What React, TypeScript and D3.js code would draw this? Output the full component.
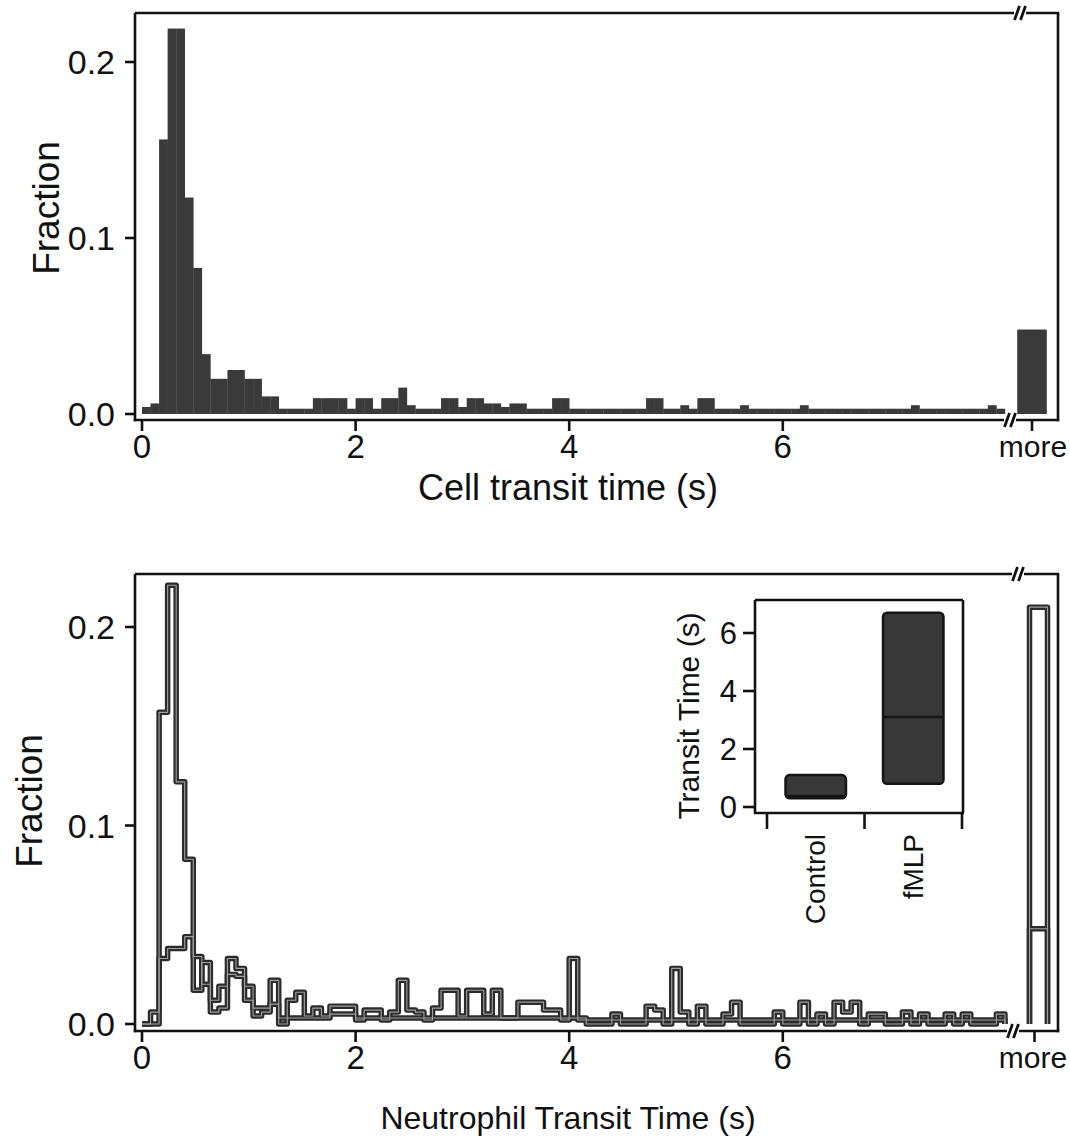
import React from 'react';
import * as d3 from 'd3';

// ---------- data ----------
const BIN_WIDTH = 0.08; // seconds per histogram bin

// Top panel: cell transit time histogram (fraction per bin, bins start at 0 s)
const topFractions = [
  0.004, 0.006, 0.156, 0.219, 0.219, 0.123, 0.083, 0.034, 0.020, 0.020,
  0.025, 0.025, 0.020, 0.020, 0.010, 0.010, 0.003, 0.003, 0.003, 0.003,
  0.009, 0.009, 0.009, 0.009, 0.003, 0.009, 0.009, 0.003, 0.009, 0.009,
  0.015, 0.005, 0.003, 0.003, 0.003, 0.009, 0.009, 0.004, 0.009, 0.009,
  0.006, 0.006, 0.004, 0.006, 0.006, 0.003, 0.003, 0.003, 0.009, 0.009,
  0.003, 0.003, 0.003, 0.003, 0.003, 0.003, 0.003, 0.003, 0.003, 0.009,
  0.009, 0.003, 0.003, 0.005, 0.003, 0.009, 0.009, 0.003, 0.003, 0.003,
  0.005, 0.003, 0.003, 0.003, 0.003, 0.003, 0.003, 0.005, 0.003, 0.003,
  0.003, 0.003, 0.003, 0.003, 0.003, 0.003, 0.003, 0.003, 0.003, 0.003,
  0.005, 0.003, 0.003, 0.003, 0.003, 0.003, 0.003, 0.003, 0.003, 0.005,
  0.003,
];
const topMore = 0.048;

// Bottom panel: neutrophil transit time, control and fMLP
const controlFractions = [
  0.000, 0.006, 0.157, 0.221, 0.122, 0.083, 0.034, 0.020, 0.012, 0.019,
  0.025, 0.024, 0.019, 0.008, 0.008, 0.010, 0.003, 0.003, 0.003, 0.003,
  0.003, 0.003, 0.005, 0.005, 0.005, 0.003, 0.003, 0.003, 0.003, 0.003,
  0.003, 0.003, 0.003, 0.003, 0.003, 0.003, 0.003, 0.003, 0.003, 0.003,
  0.003, 0.003, 0.003, 0.003, 0.003, 0.003, 0.003, 0.003, 0.003, 0.003,
  0.003, 0.002, 0.002, 0.002, 0.002, 0.002, 0.002, 0.002, 0.002, 0.002,
  0.002, 0.002, 0.002, 0.002, 0.002, 0.002, 0.002, 0.002, 0.002, 0.002,
  0.002, 0.002, 0.002, 0.002, 0.002, 0.002, 0.002, 0.002, 0.002, 0.002,
  0.002, 0.002, 0.002, 0.002, 0.002, 0.002, 0.002, 0.002, 0.002, 0.002,
  0.002, 0.002, 0.002, 0.002, 0.002, 0.002, 0.002, 0.002, 0.002, 0.002,
  0.002,
];
const fmlpFractions = [
  0.000, 0.000, 0.033, 0.038, 0.038, 0.044, 0.017, 0.031, 0.006, 0.008,
  0.033, 0.028, 0.012, 0.004, 0.006, 0.022, 0.000, 0.012, 0.016, 0.004,
  0.008, 0.004, 0.009, 0.009, 0.009, 0.002, 0.007, 0.007, 0.002, 0.006,
  0.022, 0.007, 0.006, 0.002, 0.008, 0.017, 0.017, 0.004, 0.017, 0.017,
  0.005, 0.017, 0.003, 0.003, 0.011, 0.011, 0.011, 0.007, 0.007, 0.002,
  0.033, 0.003, 0.000, 0.000, 0.000, 0.005, 0.000, 0.000, 0.000, 0.009,
  0.007, 0.000, 0.028, 0.006, 0.000, 0.009, 0.000, 0.000, 0.005, 0.011,
  0.000, 0.000, 0.000, 0.000, 0.006, 0.000, 0.000, 0.011, 0.000, 0.005,
  0.000, 0.011, 0.006, 0.011, 0.000, 0.005, 0.005, 0.000, 0.000, 0.006,
  0.000, 0.005, 0.000, 0.000, 0.005, 0.000, 0.005, 0.000, 0.000, 0.000,
  0.005,
];
const controlMore = 0.048;
const fmlpMore = 0.21;

const xTickValues = [0, 2, 4, 6];
const yTickValues = [0, 0.1, 0.2];
const moreLabel = 'more';

// Inset box plot (transit time, s)
const insetCategories = ['Control', 'fMLP'];
const insetQ1 = [0.3, 0.8];
const insetMedian = [0.38, 3.1];
const insetQ3 = [1.1, 6.7];
const insetTickValues = [0, 2, 4, 6];

// ---------- layout ----------
const FONT = 'Liberation Sans, Arial, Helvetica, sans-serif';
const L = 135;
const R = 1058;
const INK = '#111';

type Panel = { top: number; axisY: number; y: d3.ScaleLinear<number, number> };

function Frame({ top, axisY, topBreak, botBreak }: { top: number; axisY: number; topBreak: number; botBreak: number }) {
  const mark = (x: number, y: number, k: string) => (
    <line key={k} x1={x - 2.5} y1={y + 7} x2={x + 2.5} y2={y - 7} stroke={INK} strokeWidth={2.8} />
  );
  return (
    <g fill="none" stroke={INK} strokeWidth={2.6}>
      <line x1={L} y1={top} x2={L} y2={axisY + 1.2} />
      <line x1={R} y1={top} x2={R} y2={axisY + 1.2} />
      <line x1={L} y1={top} x2={topBreak - 2} y2={top} />
      <line x1={topBreak + 10} y1={top} x2={R + 1.2} y2={top} />
      {mark(topBreak + 1, top, 'a')}
      {mark(topBreak + 7, top, 'b')}
      <line x1={L - 1.2} y1={axisY} x2={botBreak - 2} y2={axisY} />
      <line x1={botBreak + 10} y1={axisY} x2={R + 1.2} y2={axisY} />
      {mark(botBreak + 1, axisY, 'c')}
      {mark(botBreak + 7, axisY, 'd')}
    </g>
  );
}

function Axes({ p, xMain, moreX, title, titleSize, titleOffset }: {
  p: Panel; xMain: d3.ScaleLinear<number, number>; moreX: number; title: string; titleSize: number; titleOffset: number;
}) {
  return (
    <g fontFamily={FONT} fill={INK}>
      {yTickValues.map((v) => (
        <g key={'y' + v}>
          <line x1={L - 10} x2={L} y1={p.y(v)} y2={p.y(v)} stroke={INK} strokeWidth={2.6} />
          <text x={L - 20} y={p.y(v)} textAnchor="end" dominantBaseline="central" fontSize={34}>
            {d3.format('.1f')(v)}
          </text>
        </g>
      ))}
      {xTickValues.map((v) => (
        <g key={'x' + v}>
          <line x1={xMain(v)} x2={xMain(v)} y1={p.axisY} y2={p.axisY + 11} stroke={INK} strokeWidth={2.6} />
          <text x={xMain(v)} y={p.axisY + 26} textAnchor="middle" dominantBaseline="central" fontSize={33}>
            {v}
          </text>
        </g>
      ))}
      <line x1={moreX} x2={moreX} y1={p.axisY} y2={p.axisY + 11} stroke={INK} strokeWidth={2.6} />
      <text x={1033} y={p.axisY + 26} textAnchor="middle" dominantBaseline="central" fontSize={30}>
        {moreLabel}
      </text>
      <text x={568} y={p.axisY + titleOffset} textAnchor="middle" dominantBaseline="central" fontSize={titleSize}>
        {title}
      </text>
    </g>
  );
}

export default function App() {
  const W = 1070;
  const H = 1148;

  const xMain = d3.scaleLinear().domain([0, 8]).range([142, 142 + 8 * 106.8]);
  const yTop = d3.scaleLinear().domain([0, 0.2]).range([414, 62]);
  const yBot = d3.scaleLinear().domain([0, 0.2]).range([1024, 627]);
  const moreTop = d3.scaleBand<string>().domain([moreLabel]).range([1012, 1052]).padding(0.15);
  const moreBot = d3.scaleBand<string>().domain([moreLabel]).range([1025, 1052]).padding(0.2);

  const topPanel: Panel = { top: 13, axisY: 420, y: yTop };
  const botPanel: Panel = { top: 574, axisY: 1031, y: yBot };

  const stepLine = d3
    .line<[number, number]>()
    .x((d) => xMain(d[0]))
    .y((d) => yBot(d[1]))
    .curve(d3.curveStepAfter);
  const toPoints = (vals: number[]): [number, number][] => [
    ...vals.map((v, i) => [i * BIN_WIDTH, v] as [number, number]),
    [vals.length * BIN_WIDTH, 0],
  ];

  const morePath = (v: number) => {
    const x0 = moreBot(moreLabel)!;
    const x1 = x0 + moreBot.bandwidth();
    const p = d3.path();
    p.moveTo(x0, yBot(0));
    p.lineTo(x0, yBot(v));
    p.lineTo(x1, yBot(v));
    p.lineTo(x1, yBot(0));
    return p.toString();
  };

  // inset scales
  const inX = d3.scaleBand<string>().domain(insetCategories).range([767, 962]);
  const inY = d3.scaleLinear().domain([0, 6]).range([807, 633]);
  const boxW = inX.bandwidth() * 0.62;

  const lineStyle = { fill: 'none', stroke: '#2b2b2b', strokeWidth: 5.5, strokeLinejoin: 'round' as const };
  const innerStyle = { fill: 'none', stroke: '#a0a0a0', strokeWidth: 1.1, strokeLinejoin: 'round' as const };

  return (
    <svg width={W} height={H} style={{ position: 'absolute', left: 0, top: 0, background: '#fff' }}>
      <rect x={0} y={0} width={W} height={H} fill="#fff" />

      {/* ---------- top panel ---------- */}
      <g>
        {topFractions.map((v, i) => (
          <rect
            key={i}
            x={xMain(i * BIN_WIDTH)}
            y={yTop(v)}
            width={xMain((i + 1) * BIN_WIDTH) - xMain(i * BIN_WIDTH) + 0.3}
            height={yTop(0) - yTop(v)}
            fill="#3a3a3a"
          />
        ))}
        <rect
          x={moreTop(moreLabel)}
          y={yTop(topMore)}
          width={moreTop.bandwidth()}
          height={yTop(0) - yTop(topMore)}
          fill="#3a3a3a"
        />
      </g>
      <Frame top={topPanel.top} axisY={topPanel.axisY} topBreak={1016} botBreak={1006} />
      <Axes
        p={topPanel}
        xMain={xMain}
        moreX={moreTop(moreLabel)! + moreTop.bandwidth() / 2}
        title="Cell transit time (s)"
        titleSize={36}
        titleOffset={67}
      />
      <text
        transform="translate(46,208) rotate(-90)"
        textAnchor="middle"
        dominantBaseline="central"
        fontFamily={FONT}
        fontSize={37}
        fill={INK}
      >
        Fraction
      </text>

      {/* ---------- bottom panel ---------- */}
      <g>
        <path d={stepLine(toPoints(controlFractions)) || ''} style={lineStyle} />
        <path d={stepLine(toPoints(fmlpFractions)) || ''} style={lineStyle} />
        <path d={morePath(fmlpMore)} style={lineStyle} />
        <path d={morePath(controlMore)} style={lineStyle} />
        <path d={stepLine(toPoints(controlFractions)) || ''} style={innerStyle} />
        <path d={stepLine(toPoints(fmlpFractions)) || ''} style={innerStyle} />
        <path d={morePath(fmlpMore)} style={innerStyle} />
        <path d={morePath(controlMore)} style={innerStyle} />
      </g>
      <Frame top={botPanel.top} axisY={botPanel.axisY} topBreak={1014} botBreak={1009} />
      <Axes
        p={botPanel}
        xMain={xMain}
        moreX={moreBot(moreLabel)! + moreBot.bandwidth() / 2 - 4}
        title="Neutrophil Transit Time (s)"
        titleSize={32}
        titleOffset={87}
      />
      <text
        transform="translate(29,801) rotate(-90)"
        textAnchor="middle"
        dominantBaseline="central"
        fontFamily={FONT}
        fontSize={37}
        fill={INK}
      >
        Fraction
      </text>

      {/* ---------- inset ---------- */}
      <g fontFamily={FONT} fill={INK}>
        <rect x={755} y={600} width={208} height={213} fill="#fff" stroke="none" />
        {insetCategories.map((c, i) => {
          const cx = inX(c)! + inX.bandwidth() / 2;
          return (
            <g key={c}>
              <rect
                x={cx - boxW / 2}
                y={inY(insetQ3[i])}
                width={boxW}
                height={inY(insetQ1[i]) - inY(insetQ3[i])}
                rx={4}
                fill="#383838"
                stroke="#151515"
                strokeWidth={2.5}
              />
              <line
                x1={cx - boxW / 2}
                x2={cx + boxW / 2}
                y1={inY(insetMedian[i])}
                y2={inY(insetMedian[i])}
                stroke="#151515"
                strokeWidth={2.5}
              />
              <text
                transform={`translate(${cx},834) rotate(-90)`}
                textAnchor="end"
                dominantBaseline="central"
                fontSize={28}
              >
                {c}
              </text>
            </g>
          );
        })}
        <g fill="none" stroke={INK} strokeWidth={2.6}>
          <line x1={755} y1={600} x2={755} y2={814} />
          <line x1={755} y1={600} x2={963} y2={600} />
          <line x1={963} y1={600} x2={963} y2={813} />
          <line x1={754} y1={813} x2={964} y2={813} />
        </g>
        {[...inX.domain().map((c) => inX(c)!), inX.range()[1]].map((x, i) => (
          <line key={'ct' + i} x1={x} x2={x} y1={813} y2={829} stroke={INK} strokeWidth={2.6} />
        ))}
        {insetTickValues.map((v) => (
          <g key={'it' + v}>
            <line x1={743} x2={755} y1={inY(v)} y2={inY(v)} stroke={INK} strokeWidth={2.6} />
            <text x={737} y={inY(v)} textAnchor="end" dominantBaseline="central" fontSize={31}>
              {v}
            </text>
          </g>
        ))}
        <text
          transform="translate(688,716) rotate(-90)"
          textAnchor="middle"
          dominantBaseline="central"
          fontSize={30}
        >
          Transit Time (s)
        </text>
      </g>
    </svg>
  );
}
